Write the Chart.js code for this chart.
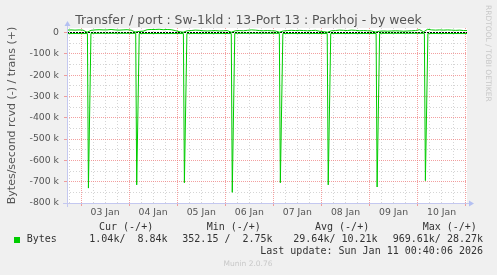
<!DOCTYPE html>
<html>
<head>
<meta charset="utf-8">
<script src="https://cdn.jsdelivr.net/npm/chart.js"></script>
<style>
    html, body { margin: 0; padding: 0; background: #f0f0f0; }
    #wrap { width: 497px; height: 275px; }
</style>
</head>
<body>
<div id="wrap"><canvas id="portChart" width="497" height="275"></canvas></div>
<script>
// Time axis: hours counted from 03 Jan 00:00 (graph runs 02 Jan 17:00 .. 11 Jan 00:40)
const xStartHour = -7;
const xEndHour = 192.67;
const dayLabels = ['03 Jan', '04 Jan', '05 Jan', '06 Jan', '07 Jan', '08 Jan', '09 Jan', '10 Jan'];

// Y axis grid (in k), labels only on the hundreds
const yGridK = [0, -50, -100, -150, -200, -250, -300, -350, -400, -450, -500, -550, -600, -650, -700, -750, -800];

// trans (+), one sample every 2 hours starting at xStartHour, in kBytes/s
const transStartHour = -7;
const transStepHours = 2;
const transK = [
    11, 12, 11, 12, 11, 1, 10, 12, 13, 12,
    12, 14, 12, 11, 12, 13, 11, 2, 5, 6,
    13, 14, 14, 15, 13, 14, 13, 9, 4, 1,
    8, 9, 11, 10, 8, 7, 8, 9, 7, 8,
    9, 1, 8, 9, 8, 10, 12, 11, 9, 8,
    9, 8, 7, 1, 7, 9, 10, 9, 10, 9,
    8, 9, 10, 6, 4, 1, 8, 9, 11, 10,
    9, 11, 10, 8, 9, 8, 7, 2, 6, 7,
    6, 7, 8, 7, 6, 7, 8, 9, 13, 3,
    15, 12, 11, 12, 11, 12, 11, 10, 11, 9,
    9
];

// rcvd (-): quiet baseline between the nightly bursts, in kBytes/s
const rcvdBaseK = [-5, -4, -5, -5, -4, -5, -5, -4, -5];
const spikeHours = [3.7, 27.8, 51.6, 75.5, 99.5, 123.4, 147.8, 171.9];
const spikeK = [-730, -715, -705, -750, -705, -715, -725, -695];

// Legend
const legendHeads = ['Cur (-/+)', 'Min (-/+)', 'Avg (-/+)', 'Max (-/+)'];
const legendValues = ['1.04k/  8.84k', '352.15 /  2.75k', '29.64k/ 10.21k', '969.61k/ 28.27k'];
const lastUpdate = 'Last update: Sun Jan 11 00:40:06 2026';

const lineGreen = '#00cc00';
const gridRed = 'rgba(238, 120, 120, 0.7)';
const gridGray = 'rgba(185, 185, 185, 0.6)';
const axisBlue = '#c4c8f0';

// build point lists
const transPoints = transK.map((v, i) => ({ x: transStartHour + i * transStepHours, y: v * 1000 }));

const rcvdPoints = [{ x: xStartHour, y: rcvdBaseK[0] * 1000 }];
spikeHours.forEach((h, i) => {
    rcvdPoints.push({ x: h - 0.5, y: rcvdBaseK[i] * 1000 });
    rcvdPoints.push({ x: h, y: spikeK[i] * 1000 });
    rcvdPoints.push({ x: h + 1.25, y: rcvdBaseK[i + 1] * 1000 });
});
rcvdPoints.push({ x: xEndHour, y: rcvdBaseK[rcvdBaseK.length - 1] * 1000 });

const xGridHours = [];
for (let h = -6; h <= 192; h += 6) xGridHours.push(h);

// Extra decorations: title, axis arrows, legend, watermark
const munin = {
    id: 'munin',
    afterDraw(chart) {
        const ctx = chart.ctx;
        const area = chart.chartArea;
        ctx.save();

        // axes with arrows
        ctx.strokeStyle = axisBlue;
        ctx.lineWidth = 1;
        ctx.beginPath();
        ctx.moveTo(area.left + 0.5, area.bottom + 4);
        ctx.lineTo(area.left + 0.5, area.top - 4);
        ctx.moveTo(area.left - 4, area.bottom + 0.5);
        ctx.lineTo(area.right + 3, area.bottom + 0.5);
        ctx.stroke();
        ctx.fillStyle = '#b4c0f2';
        ctx.beginPath();
        ctx.moveTo(area.left + 0.5, area.top - 7);
        ctx.lineTo(area.left - 2.5, area.top - 2);
        ctx.lineTo(area.left + 3.5, area.top - 2);
        ctx.closePath();
        ctx.fill();
        ctx.beginPath();
        ctx.moveTo(area.right + 7, area.bottom + 0.5);
        ctx.lineTo(area.right + 2, area.bottom - 2.5);
        ctx.lineTo(area.right + 2, area.bottom + 3.5);
        ctx.closePath();
        ctx.fill();

        // title
        ctx.fillStyle = '#555';
        ctx.font = '12.4px "DejaVu Sans"';
        ctx.textAlign = 'center';
        ctx.textBaseline = 'alphabetic';
        ctx.fillText('Transfer / port : Sw-1kld : 13-Port 13 : Parkhoj - by week', 248.5, 24);

        // y axis title
        ctx.save();
        ctx.translate(15, (area.top + area.bottom) / 2);
        ctx.rotate(-Math.PI / 2);
        ctx.font = '11px "DejaVu Sans"';
        ctx.fillStyle = '#555';
        ctx.fillText('Bytes/second rcvd (-) / trans (+)', 0, 0);
        ctx.restore();

        // watermark on the right
        ctx.save();
        ctx.translate(486, 5);
        ctx.rotate(Math.PI / 2);
        ctx.font = '7.5px "DejaVu Sans"';
        ctx.fillStyle = '#c8c8c8';
        ctx.textAlign = 'left';
        ctx.fillText('RRDTOOL / TOBI OETIKER', 0, 0);
        ctx.restore();

        // legend
        ctx.font = '10px "DejaVu Sans Mono"';
        ctx.fillStyle = '#333';
        ctx.textAlign = 'left';
        const headX = [99, 206.7, 315, 422.7];
        const valX = [89.3, 182.3, 293.3, 392.7];
        legendHeads.forEach((t, i) => ctx.fillText(t, headX[i], 230));
        legendValues.forEach((t, i) => ctx.fillText(t, valX[i], 242));
        ctx.fillText('Bytes', 26.7, 242);
        ctx.fillStyle = lineGreen;
        ctx.fillRect(14, 237, 6, 6);
        ctx.fillStyle = '#333';
        ctx.textAlign = 'right';
        ctx.fillText(lastUpdate, 483, 254);

        ctx.textAlign = 'center';
        ctx.font = '7.5px "DejaVu Sans"';
        ctx.fillStyle = '#c8c8c8';
        ctx.fillText('Munin 2.0.76', 248, 266);

        ctx.restore();
    }
};

const ctx = document.getElementById('portChart').getContext('2d');
const portChart = new Chart(ctx, {
    type: 'line',
    data: {
        datasets: [{
            label: 'trans',
            data: transPoints,
            borderColor: lineGreen,
            borderWidth: 1,
            pointRadius: 0,
            tension: 0,
            fill: false,
        }, {
            label: 'rcvd',
            data: rcvdPoints,
            borderColor: lineGreen,
            borderWidth: 1,
            pointRadius: 0,
            tension: 0,
            fill: false,
        }],
    },
    options: {
        responsive: false,
        animation: false,
        devicePixelRatio: 1,
        layout: { padding: { left: 0, right: 30, top: 28, bottom: 0 } },
        plugins: {
            legend: { display: false },
            tooltip: { enabled: false },
        },
        scales: {
            x: {
                type: 'linear',
                min: xStartHour,
                max: xEndHour,
                afterBuildTicks: (scale) => { scale.ticks = xGridHours.map(v => ({ value: v })); },
                afterFit: (scale) => { scale.height = 72; },
                ticks: {
                    autoSkip: false,
                    maxRotation: 0,
                    padding: 1,
                    color: '#555',
                    font: { family: 'DejaVu Sans', size: 9.3 },
                    callback: (v) => ((v - 12) % 24 === 0 ? dayLabels[(v - 12) / 24] : ''),
                },
                grid: {
                    lineWidth: 1,
                    tickLength: 3,
                    color: (c) => (c.tick && c.tick.value % 24 === 0 ? gridRed : gridGray),
                    tickColor: (c) => (c.tick && c.tick.value % 24 === 0 ? gridRed : 'rgba(0,0,0,0)'),
                    tickBorderDash: [],
                },
                border: {
                    display: false,
                    dash: (c) => (c.tick && c.tick.value % 24 === 0 ? [1, 1] : [1, 2]),
                },
            },
            y: {
                type: 'linear',
                min: -800000,
                max: 21000,
                afterBuildTicks: (scale) => { scale.ticks = yGridK.map(v => ({ value: v * 1000 })); },
                afterFit: (scale) => { scale.width = 67; },
                ticks: {
                    autoSkip: false,
                    padding: 5,
                    color: '#555',
                    font: { family: 'DejaVu Sans', size: 9.3 },
                    callback: (v) => {
                        if (v === 0) return '0';
                        return v % 100000 === 0 ? (v / 1000) + ' k' : '';
                    },
                },
                grid: {
                    lineWidth: 1,
                    tickLength: 3,
                    color: (c) => {
                        if (!c.tick) return gridGray;
                        if (c.tick.value === 0) return '#000';
                        return c.tick.value % 100000 === 0 ? gridRed : gridGray;
                    },
                    tickColor: (c) => (c.tick && c.tick.value % 100000 === 0 ? gridRed : 'rgba(0,0,0,0)'),
                    tickBorderDash: [],
                },
                border: {
                    display: false,
                    dash: (c) => {
                        if (!c.tick) return [1, 2];
                        if (c.tick.value === 0) return [2, 1];
                        return c.tick.value % 100000 === 0 ? [1, 1] : [1, 2];
                    },
                },
            },
        },
    },
    plugins: [munin, {
        id: 'plotBg',
        beforeDraw(chart) {
            const a = chart.chartArea;
            chart.ctx.save();
            chart.ctx.fillStyle = '#ffffff';
            chart.ctx.fillRect(a.left, a.top, a.right - a.left, a.bottom - a.top);
            chart.ctx.restore();
        }
    }],
});
</script>
</body>
</html>
